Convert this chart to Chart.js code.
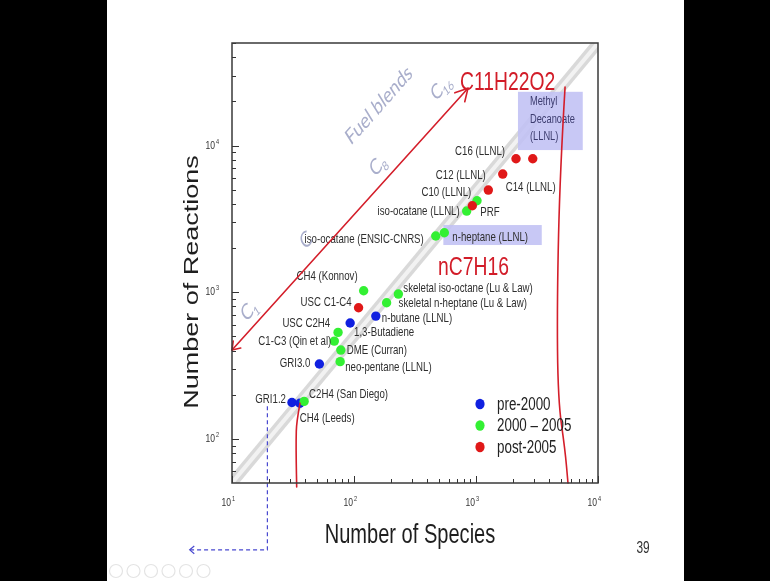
<!DOCTYPE html>
<html><head><meta charset="utf-8">
<script src="https://cdn.jsdelivr.net/npm/chart.js@4.4.1/dist/chart.umd.min.js"></script>
<style>html,body{margin:0;padding:0;background:#000;overflow:hidden}canvas{display:block}</style>
</head><body>
<canvas id="c" width="770" height="581"></canvas>
<script>
// ---------- data ----------
const seriesNames = ['pre-2000', '2000 – 2005', 'post-2005'];

const namesPre = ['GRI1.2', 'CH4 (Leeds)', 'GRI3.0', 'USC C2H4', 'n-butane (LLNL)'];
const speciesPre = [31, 36, 52, 93, 151];
const reactionsPre = [177, 175, 324, 616, 687];

const namesMid = ['C2H4 (San Diego)', 'neo-pentane (LLNL)', 'DME (Curran)', 'C1-C3 (Qin et al)', '1,3-Butadiene',
  'CH4 (Konnov)', 'skeletal n-heptane (Lu & Law)', 'skeletal iso-octane (Lu & Law)', 'iso-ocatane (ENSIC-CNRS)',
  'n-heptane (LLNL)', 'iso-ocatane (LLNL)', ''];
const speciesMid = [39, 77, 78, 69, 74, 120, 185, 231, 468, 550, 839, 1019];
const reactionsMid = [180, 336, 403, 464, 532, 1023, 847, 971, 2414, 2542, 3574, 4200];

const namesPost = ['USC C1-C4', 'PRF', 'C10 (LLNL)', 'C12 (LLNL)', 'C16 (LLNL)', 'C14 (LLNL)'];
const speciesPost = [109, 933, 1262, 1656, 2128, 2918];
const reactionsPost = [783, 3884, 4969, 6388, 8124, 8124];

const xRange = [10, 10000];
const yRange = [50, 50000];
const xMajorTicks = [10, 100, 1000, 10000];
const yMajorTicks = [100, 1000, 10000];
const tickExponents = {10: '1', 100: '2', 1000: '3', 10000: '4'};
const minorMultipliers = [2, 3, 4, 5, 6, 7, 8, 9];

// annotation paths, in data units (species, reactions)
const trendBand = [[10, 50], [10000, 50000]];
const fuelBlendArrow = [[10, 403], [860, 24600]];
const leftBound = [[36.1, 175], [33.8, 130], [33.5, 98], [33.6, 70], [33.9, 47]];
const rightBound = [[5370, 25010], [4890, 6800], [4616, 884], [4700, 184], [5370, 84], [5675, 50]];
const griGuide = [[19.5, 167], [19.5, 17.5], [4.5, 17.5]];
const heptaneBox = [[540, 2869], [3460, 2097]];
const decanoateBox = [[2208, 23240], [7500, 9310]];
const decanoateText = ['Methyl', 'Decanoate', '(LLNL)'];

// ---------- styles / placement ----------
const SX = 0.743; // slide is squeezed horizontally
const colors = ['#1020e0', '#33f033', '#e01818'];
const labelPlace = {
  'GRI1.2': [-6, -3, 'right'], 'CH4 (Leeds)': [0, 15, 'left'], 'GRI3.0': [-9, -1, 'right'],
  'USC C2H4': [-20, 0, 'right'], 'n-butane (LLNL)': [6, 2, 'left'],
  'C2H4 (San Diego)': [5, -7, 'left'], 'neo-pentane (LLNL)': [5, 6, 'left'], 'DME (Curran)': [6, 0, 'left'],
  'C1-C3 (Qin et al)': [-3, 0, 'right'], '1,3-Butadiene': [16, 0, 'left'], 'CH4 (Konnov)': [-6, -14, 'right'],
  'skeletal n-heptane (Lu & Law)': [12, 1, 'left'], 'skeletal iso-octane (Lu & Law)': [5, -6, 'left'],
  'iso-ocatane (ENSIC-CNRS)': [-12, 3, 'right'], 'n-heptane (LLNL)': [8, 5, 'left'],
  'iso-ocatane (LLNL)': [-7, 0, 'right'],
  'USC C1-C4': [-7, -5, 'right'], 'PRF': [8, 7, 'left'], 'C10 (LLNL)': [-17, 2, 'right'],
  'C12 (LLNL)': [-17, 1, 'right'], 'C16 (LLNL)': [-11, -7, 'right'], 'C14 (LLNL)': [-27, 29, 'left']
};

function pts(xs, ys) { return xs.map((x, i) => ({x: x, y: ys[i]})); }

function txt(ctx, s, x, y, o) {
  ctx.save();
  ctx.translate(x, y);
  ctx.scale(SX, 1);
  if (o.rot) ctx.rotate(o.rot);
  ctx.font = o.font;
  ctx.fillStyle = o.color || '#2b2b2b';
  ctx.textAlign = o.align || 'left';
  ctx.textBaseline = o.base || 'middle';
  ctx.fillText(s, 0, 0);
  ctx.restore();
}
function subTxt(ctx, main, sub, x, y, rot, size) {
  ctx.save();
  ctx.translate(x, y);
  ctx.scale(SX, 1);
  ctx.rotate(rot);
  ctx.fillStyle = '#a9aecb';
  ctx.textBaseline = 'middle';
  ctx.font = size + 'px Lato';
  const w1 = ctx.measureText(main).width;
  ctx.font = Math.round(size * 0.6) + 'px Lato';
  const w2 = sub ? ctx.measureText(sub).width : 0;
  const x0 = -(w1 + w2) / 2;
  ctx.font = size + 'px Lato';
  ctx.textAlign = 'left';
  ctx.fillText(main, x0, 0);
  if (sub) {
    ctx.font = Math.round(size * 0.6) + 'px Lato';
    ctx.fillText(sub, x0 + w1, size * 0.35);
  }
  ctx.restore();
}

function smoothPath(ctx, p) {
  ctx.beginPath();
  ctx.moveTo(p[0][0], p[0][1]);
  for (let i = 1; i < p.length - 1; i++) {
    const mx = (p[i][0] + p[i + 1][0]) / 2, my = (p[i][1] + p[i + 1][1]) / 2;
    ctx.quadraticCurveTo(p[i][0], p[i][1], mx, my);
  }
  const l = p[p.length - 1];
  ctx.lineTo(l[0], l[1]);
  ctx.stroke();
}
function arrowHead(ctx, tx, ty, fx, fy, len, spread) {
  const a = Math.atan2(ty - fy, tx - fx);
  ctx.beginPath();
  ctx.moveTo(tx + len * Math.cos(a + Math.PI - spread), ty + len * Math.sin(a + Math.PI - spread));
  ctx.lineTo(tx, ty);
  ctx.lineTo(tx + len * Math.cos(a + Math.PI + spread), ty + len * Math.sin(a + Math.PI + spread));
  ctx.stroke();
}

const annot = {
  id: 'annot',
  beforeDraw(chart) {
    const c = chart.ctx;
    c.save();
    c.fillStyle = '#000'; c.fillRect(0, 0, chart.width, chart.height);
    c.fillStyle = '#fff'; c.fillRect(107, 0, 577, chart.height);
    c.restore();
  },
  afterDatasetDraw(chart, args) {
    if (args.index !== 1) return;
    const c = chart.ctx, X = chart.scales.x, Y = chart.scales.y;
    c.save();
    c.fillStyle = 'rgba(192,192,244,0.88)';
    [heptaneBox, decanoateBox].forEach(b => {
      const x1 = X.getPixelForValue(b[0][0]), y1 = Y.getPixelForValue(b[0][1]);
      const x2 = X.getPixelForValue(b[1][0]), y2 = Y.getPixelForValue(b[1][1]);
      c.fillRect(x1, y1, x2 - x1, y2 - y1);
    });
    c.restore();
  },
  afterDatasetsDraw(chart) {
    const c = chart.ctx, X = chart.scales.x, Y = chart.scales.y, ca = chart.chartArea;
    const P = (d) => [X.getPixelForValue(d[0]), Y.getPixelForValue(d[1])];
    const lblFont = '13px "Liberation Sans", Arial, sans-serif';

    [[namesPre, speciesPre, reactionsPre], [namesMid, speciesMid, reactionsMid], [namesPost, speciesPost, reactionsPost]]
      .forEach(([names, xs, ys]) => {
        names.forEach((n, i) => {
          if (!n) return;
          const pl = labelPlace[n] || [6, 0, 'left'];
          const px = X.getPixelForValue(xs[i]), py = Y.getPixelForValue(ys[i]);
          txt(c, n, px + pl[0], py + pl[1], {font: lblFont, align: pl[2], color: '#2e2e2e'});
        });
      });

    const db = P([decanoateBox[0][0], decanoateBox[0][1]]);
    decanoateText.forEach((t, i) => txt(c, t, db[0] + 12, db[1] + 10 + i * 17.5,
      {font: '12.5px "Liberation Sans", Arial', color: '#3b3b6e'}));

    const rot = -40 * Math.PI / 180;
    let p = P([160, 18860]);
    c.save(); c.translate(p[0], p[1]); c.scale(SX, 1); c.rotate(rot);
    c.font = '22px Lato'; c.fillStyle = '#a9aecb'; c.textAlign = 'center'; c.textBaseline = 'middle';
    c.fillText('Fuel blends', 0, 0); c.restore();
    p = P([516, 25000]); subTxt(c, 'C', '16', p[0], p[1], rot, 21);
    p = P([157, 7360]); subTxt(c, 'C', '8', p[0], p[1], rot, 22);
    p = P([40.4, 2266]); subTxt(c, 'C', '', p[0], p[1], rot, 22);
    p = P([13.8, 756]); subTxt(c, 'C', '1', p[0], p[1], rot, 22);

    p = P([740, 23870]);
    txt(c, 'C11H22O2', p[0], p[1], {font: '26px "Liberation Sans", Arial', color: '#d21c28', base: 'alphabetic'});
    p = P([489, 1309]);
    txt(c, 'nC7H16', p[0], p[1], {font: '26px "Liberation Sans", Arial', color: '#d21c28', base: 'alphabetic'});

    c.save();
    c.strokeStyle = '#d41e2a'; c.lineWidth = 1.6; c.lineCap = 'round'; c.lineJoin = 'round';
    const fa = fuelBlendArrow.map(P);
    c.beginPath(); c.moveTo(fa[0][0], fa[0][1]); c.lineTo(fa[1][0], fa[1][1]); c.stroke();
    arrowHead(c, fa[1][0], fa[1][1], fa[0][0], fa[0][1], 14, 0.5);
    arrowHead(c, fa[0][0], fa[0][1], fa[1][0], fa[1][1], 9, 0.6);
    smoothPath(c, leftBound.map(P));
    smoothPath(c, rightBound.map(P));
    c.restore();

    c.save();
    c.strokeStyle = '#4848d0'; c.lineWidth = 1.2; c.setLineDash([4, 3]);
    const g = griGuide.map(P);
    c.beginPath(); c.moveTo(g[0][0], g[0][1]); c.lineTo(g[1][0], g[1][1]); c.lineTo(g[2][0], g[2][1]); c.stroke();
    c.setLineDash([]);
    arrowHead(c, g[2][0], g[2][1], g[1][0], g[1][1], 6, 0.7);
    c.restore();

    c.save();
    c.strokeStyle = '#333'; c.lineWidth = 1;
    const xMinor = [], yMinor = [];
    xMajorTicks.forEach(d => minorMultipliers.forEach(m => { const v = d * m; if (v > xRange[0] && v < xRange[1]) xMinor.push(v); }));
    [10, 100, 1000, 10000].forEach(d => minorMultipliers.forEach(m => { const v = d * m; if (v > yRange[0] && v <= yRange[1]) yMinor.push(v); }));
    c.beginPath();
    xMajorTicks.forEach(v => { const x = Math.round(X.getPixelForValue(v)) + 0.5; c.moveTo(x, ca.bottom); c.lineTo(x, ca.bottom - 7); });
    xMinor.forEach(v => { const x = Math.round(X.getPixelForValue(v)) + 0.5; c.moveTo(x, ca.bottom); c.lineTo(x, ca.bottom - 4); });
    yMajorTicks.forEach(v => { const y = Math.round(Y.getPixelForValue(v)) + 0.5; c.moveTo(ca.left, y); c.lineTo(ca.left + 7, y); });
    yMinor.forEach(v => { const y = Math.round(Y.getPixelForValue(v)) + 0.5; c.moveTo(ca.left, y); c.lineTo(ca.left + 4, y); });
    c.stroke();
    c.strokeStyle = '#3a3a3a'; c.lineWidth = 1.5;
    c.strokeRect(ca.left, ca.top, ca.right - ca.left, ca.bottom - ca.top);
    c.restore();

    const tf = '11.5px "Liberation Sans", Arial', sf = '7.5px "Liberation Sans", Arial';
    xMajorTicks.forEach(v => {
      const x = X.getPixelForValue(v);
      txt(c, '10', x - 1, ca.bottom + 20, {font: tf, align: 'right', color: '#333'});
      txt(c, tickExponents[v], x, ca.bottom + 16, {font: sf, align: 'left', color: '#333'});
    });
    yMajorTicks.forEach(v => {
      const y = Y.getPixelForValue(v);
      txt(c, '10', ca.left - 17, y, {font: tf, align: 'right', color: '#333'});
      txt(c, tickExponents[v], ca.left - 16, y - 4, {font: sf, align: 'left', color: '#333'});
    });

    txt(c, 'Number of Species', (ca.left + ca.right) / 2 - 5, ca.bottom + 60,
      {font: '27px "Liberation Sans", Arial', align: 'center', base: 'alphabetic', color: '#1e1e1e'});
    c.save();
    c.translate(ca.left - 34.5, 282); c.scale(SX, 1); c.rotate(-Math.PI / 2);
    c.font = '27px "Liberation Sans", Arial'; c.fillStyle = '#1e1e1e'; c.textAlign = 'center'; c.textBaseline = 'alphabetic';
    c.fillText('Number of Reactions', 0, 0);
    c.restore();

    seriesNames.forEach((n, i) => {
      const y = ca.bottom - 79 + i * 21.5, x = ca.left + 248;
      c.save(); c.fillStyle = colors[i];
      c.beginPath(); c.ellipse(x, y, 4.6, 5.2, 0, 0, Math.PI * 2); c.fill(); c.restore();
      txt(c, n, x + 17, y + 1, {font: '18px "Liberation Sans", Arial', color: '#222'});
    });

    txt(c, '39', 643, 549, {font: '16px "Liberation Sans", Arial', align: 'center', color: '#333'});

    c.save(); c.strokeStyle = '#e4e4e4'; c.lineWidth = 1.2;
    for (let i = 0; i < 6; i++) { c.beginPath(); c.arc(116 + i * 17.5, 571, 6.5, 0, Math.PI * 2); c.stroke(); }
    c.restore();
  }
};

const pointStyle = (i) => ({backgroundColor: colors[i], borderWidth: 0, pointRadius: 4.7, pointHoverRadius: 4.7});

new Chart(document.getElementById('c'), {
  type: 'scatter',
  data: {
    datasets: [
      {label: 'band', type: 'line', data: pts(trendBand.map(d => d[0]), trendBand.map(d => d[1])),
        borderColor: '#d9d9d9', borderWidth: 11, pointRadius: 0, order: 10, borderCapStyle: 'butt'},
      {label: 'band-hi', type: 'line', data: pts(trendBand.map(d => d[0]), trendBand.map(d => d[1])),
        borderColor: '#f2f2f2', borderWidth: 4, pointRadius: 0, order: 9, borderCapStyle: 'butt'},
      Object.assign({label: seriesNames[0], data: pts(speciesPre, reactionsPre), order: 2}, pointStyle(0)),
      Object.assign({label: seriesNames[1], data: pts(speciesMid, reactionsMid), order: 1}, pointStyle(1)),
      Object.assign({label: seriesNames[2], data: pts(speciesPost, reactionsPost), order: 0}, pointStyle(2))
    ]
  },
  options: {
    responsive: false, animation: false, devicePixelRatio: 1,
    layout: {padding: {left: 232, top: 43, right: 172, bottom: 98}},
    plugins: {legend: {display: false}, tooltip: {enabled: false}},
    scales: {
      x: {type: 'logarithmic', display: false, min: xRange[0], max: xRange[1]},
      y: {type: 'logarithmic', display: false, min: yRange[0], max: yRange[1]}
    }
  },
  plugins: [annot]
});
</script>
</body></html>
